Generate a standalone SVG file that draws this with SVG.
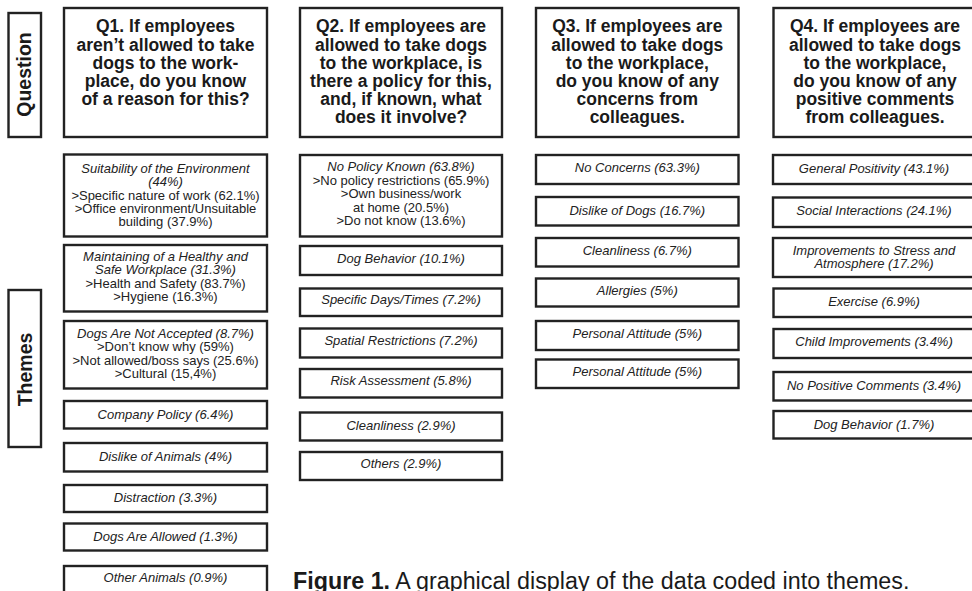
<svg xmlns="http://www.w3.org/2000/svg" width="972" height="591" viewBox="0 0 972 591">
<style>
.box{fill:#fff;stroke:#222;stroke-width:2.4}
.q{font-family:"Liberation Sans",Arial,sans-serif;font-weight:bold;font-size:17.5px;text-anchor:middle;fill:#1a1a1a}
.t{font-family:"Liberation Sans",Arial,sans-serif;font-size:13px;text-anchor:middle;fill:#222}
.i{font-style:italic}
.lab{font-family:"Liberation Sans",Arial,sans-serif;font-weight:bold;font-size:19.5px;text-anchor:middle;fill:#1a1a1a}
.cap{font-family:"Liberation Sans",Arial,sans-serif;font-size:23.3px;fill:#1a1a1a}
</style>
<rect width="972" height="591" fill="#fff"/>
<g id="label-question"><rect class="box" x="8.5" y="13" width="32.5" height="124"/><text class="lab" transform="translate(31,74.5) rotate(-90)">Question</text></g>
<g id="label-themes"><rect class="box" x="8.5" y="290" width="32.5" height="157"/><text class="lab" transform="translate(31.5,369.5) rotate(-90)">Themes</text></g>

<g id="q1"><rect class="box" x="64" y="8" width="203" height="129"/>
<text class="q"><tspan x="165.5" y="32.3">Q1. If employees</tspan><tspan x="165.5" y="50.5">aren’t allowed to take</tspan><tspan x="165.5" y="68.7">dogs to the work-</tspan><tspan x="165.5" y="86.9">place, do you know</tspan><tspan x="165.5" y="105.1">of a reason for this?</tspan></text></g>
<g id="q2"><rect class="box" x="300" y="8" width="202" height="129"/>
<text class="q"><tspan x="401" y="32.3">Q2. If employees are</tspan><tspan x="401" y="50.5">allowed to take dogs</tspan><tspan x="401" y="68.7">to the workplace, is</tspan><tspan x="401" y="86.9">there a policy for this,</tspan><tspan x="401" y="105.1">and, if known, what</tspan><tspan x="401" y="123.3">does it involve?</tspan></text></g>
<g id="q3"><rect class="box" x="536" y="8" width="202.5" height="129"/>
<text class="q"><tspan x="637.3" y="32.3">Q3. If employees are</tspan><tspan x="637.3" y="50.5">allowed to take dogs</tspan><tspan x="637.3" y="68.7">to the workplace,</tspan><tspan x="637.3" y="86.9">do you know of any</tspan><tspan x="637.3" y="105.1">concerns from</tspan><tspan x="637.3" y="123.3">colleagues.</tspan></text></g>
<g id="q4"><rect class="box" x="773.5" y="8" width="203" height="129"/>
<text class="q"><tspan x="875" y="32.3">Q4. If employees are</tspan><tspan x="875" y="50.5">allowed to take dogs</tspan><tspan x="875" y="68.7">to the workplace,</tspan><tspan x="875" y="86.9">do you know of any</tspan><tspan x="875" y="105.1">positive comments</tspan><tspan x="875" y="123.3">from colleagues.</tspan></text></g>

<g id="q1-suitability"><rect class="box" x="64" y="154.5" width="203" height="82"/>
<text class="t"><tspan class="i" x="165.5" y="173">Suitability of the Environment</tspan><tspan class="i" x="165.5" y="186.3">(44%)</tspan><tspan x="165.5" y="199.6">&gt;Specific nature of work (62.1%)</tspan><tspan x="165.5" y="212.9">&gt;Office environment/Unsuitable</tspan><tspan x="165.5" y="226.2">building (37.9%)</tspan></text></g>
<g id="q1-healthy"><rect class="box" x="64" y="245" width="203" height="66.5"/>
<text class="t"><tspan class="i" x="165.5" y="261">Maintaining of a Healthy and</tspan><tspan class="i" x="165.5" y="274.3">Safe Workplace (31.3%)</tspan><tspan x="165.5" y="287.6">&gt;Health and Safety (83.7%)</tspan><tspan x="165.5" y="300.9">&gt;Hygiene (16.3%)</tspan></text></g>
<g id="q1-notaccepted"><rect class="box" x="64" y="321" width="203" height="67.5"/>
<text class="t"><tspan class="i" x="165.5" y="338">Dogs Are Not Accepted (8.7%)</tspan><tspan x="165.5" y="351.3">&gt;Don’t know why (59%)</tspan><tspan x="165.5" y="364.6">&gt;Not allowed/boss says (25.6%)</tspan><tspan x="165.5" y="377.9">&gt;Cultural (15,4%)</tspan></text></g>
<g id="q1-policy"><rect class="box" x="64" y="401" width="203" height="27.5"/><text class="t i" x="165.5" y="418.5">Company Policy (6.4%)</text></g>
<g id="q1-dislike"><rect class="box" x="64" y="443" width="203" height="28.5"/><text class="t i" x="165.5" y="460.5">Dislike of Animals (4%)</text></g>
<g id="q1-distraction"><rect class="box" x="64" y="485" width="203" height="27"/><text class="t i" x="165.5" y="502">Distraction (3.3%)</text></g>
<g id="q1-allowed"><rect class="box" x="64" y="523.5" width="203" height="27"/><text class="t i" x="165.5" y="541">Dogs Are Allowed (1.3%)</text></g>
<g id="q1-other"><rect class="box" x="64" y="566" width="203" height="30"/><text class="t i" x="165.5" y="582">Other Animals (0.9%)</text></g>

<g id="q2-nopolicy"><rect class="box" x="300" y="155" width="202" height="81.5"/>
<text class="t"><tspan class="i" x="401" y="171.2">No Policy Known (63.8%)</tspan><tspan x="401" y="184.7">&gt;No policy restrictions (65.9%)</tspan><tspan x="401" y="198.2">&gt;Own business/work</tspan><tspan x="401" y="211.7">at home (20.5%)</tspan><tspan x="401" y="225.2">&gt;Do not know (13.6%)</tspan></text></g>
<g id="q2-behavior"><rect class="box" x="300" y="246" width="202" height="29"/><text class="t i" x="401" y="263">Dog Behavior (10.1%)</text></g>
<g id="q2-days"><rect class="box" x="300" y="288.5" width="202" height="27.5"/><text class="t i" x="401" y="304">Specific Days/Times (7.2%)</text></g>
<g id="q2-spatial"><rect class="box" x="300" y="328.5" width="202" height="29"/><text class="t i" x="401" y="345.2">Spatial Restrictions (7.2%)</text></g>
<g id="q2-risk"><rect class="box" x="300" y="369" width="202" height="28.5"/><text class="t i" x="401" y="384.5">Risk Assessment (5.8%)</text></g>
<g id="q2-clean"><rect class="box" x="300" y="412.5" width="202" height="28"/><text class="t i" x="401" y="429.5">Cleanliness (2.9%)</text></g>
<g id="q2-others"><rect class="box" x="300" y="452" width="202" height="28"/><text class="t i" x="401" y="468">Others (2.9%)</text></g>

<g id="q3-noconcerns"><rect class="box" x="536" y="155" width="202.5" height="29"/><text class="t i" x="637.3" y="172">No Concerns (63.3%)</text></g>
<g id="q3-dislike"><rect class="box" x="536" y="197" width="202.5" height="28.5"/><text class="t i" x="637.3" y="214.5">Dislike of Dogs (16.7%)</text></g>
<g id="q3-clean"><rect class="box" x="536" y="238" width="202.5" height="28.5"/><text class="t i" x="637.3" y="255.2">Cleanliness (6.7%)</text></g>
<g id="q3-allergies"><rect class="box" x="536" y="278.5" width="202.5" height="28"/><text class="t i" x="637.3" y="295.2">Allergies (5%)</text></g>
<g id="q3-attitude1"><rect class="box" x="536" y="321" width="202.5" height="29"/><text class="t i" x="637.3" y="338">Personal Attitude (5%)</text></g>
<g id="q3-attitude2"><rect class="box" x="536" y="359.5" width="202.5" height="28.5"/><text class="t i" x="637.3" y="376">Personal Attitude (5%)</text></g>

<g id="q4-general"><rect class="box" x="773" y="155" width="203" height="29"/><text class="t i" x="874" y="172.8">General Positivity (43.1%)</text></g>
<g id="q4-social"><rect class="box" x="773" y="197.5" width="203" height="29.5"/><text class="t i" x="874" y="215.2">Social Interactions (24.1%)</text></g>
<g id="q4-stress"><rect class="box" x="773" y="238" width="203" height="39"/>
<text class="t i"><tspan x="874" y="254.8">Improvements to Stress and</tspan><tspan x="874" y="268.1">Atmosphere (17.2%)</tspan></text></g>
<g id="q4-exercise"><rect class="box" x="773.5" y="288.5" width="203" height="28.5"/><text class="t i" x="874" y="306.2">Exercise (6.9%)</text></g>
<g id="q4-child"><rect class="box" x="773.5" y="329" width="203" height="29"/><text class="t i" x="874" y="346.2">Child Improvements (3.4%)</text></g>
<g id="q4-nopositive"><rect class="box" x="773.5" y="372" width="203" height="28.5"/><text class="t i" x="874" y="389.5">No Positive Comments (3.4%)</text></g>
<g id="q4-behavior"><rect class="box" x="773.5" y="411" width="203" height="27.5"/><text class="t i" x="874" y="428.5">Dog Behavior (1.7%)</text></g>

<g id="connectors"></g>

<text class="cap" x="293" y="589"><tspan font-weight="bold">Figure 1.</tspan> A graphical display of the data coded into themes.</text>
</svg>
